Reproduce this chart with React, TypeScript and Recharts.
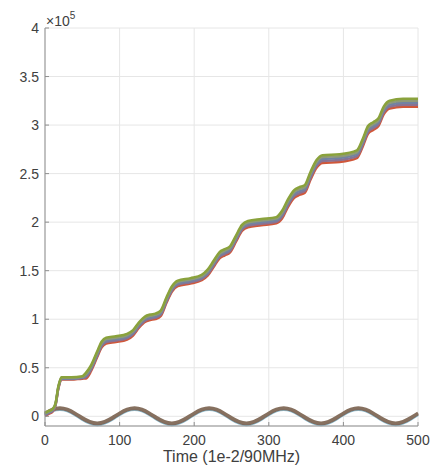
import React from "react";
import { LineChart, Line, XAxis, YAxis, CartesianGrid } from "recharts";

// Time samples (1e-2/90MHz) for the accumulated-phase traces
const stairTime = [0, 5, 10, 14, 18, 22, 35, 50, 55, 62, 70, 76, 82, 95, 110, 118, 126, 134, 141, 148, 155, 163, 170, 178, 195, 210, 218, 226, 234, 241, 248, 256, 264, 272, 290, 310, 318, 326, 334, 341, 348, 356, 364, 372, 395, 418, 426, 433, 440, 447, 454, 462, 480, 500];

// Accumulated traces, in units of 1e5
const stairA = [0.035, 0.055, 0.075, 0.132, 0.312, 0.402, 0.402, 0.412, 0.45, 0.53, 0.67, 0.77, 0.81, 0.825, 0.85, 0.888, 0.968, 1.028, 1.048, 1.058, 1.088, 1.228, 1.338, 1.398, 1.423, 1.458, 1.512, 1.602, 1.692, 1.722, 1.752, 1.862, 1.972, 2.012, 2.032, 2.052, 2.12, 2.24, 2.33, 2.36, 2.38, 2.52, 2.64, 2.69, 2.70, 2.74, 2.86, 2.99, 3.03, 3.07, 3.19, 3.25, 3.27, 3.27];
const stairB = [0.028, 0.048, 0.068, 0.126, 0.306, 0.396, 0.396, 0.406, 0.435, 0.515, 0.655, 0.755, 0.795, 0.81, 0.835, 0.874, 0.954, 1.014, 1.034, 1.044, 1.074, 1.214, 1.324, 1.384, 1.409, 1.444, 1.496, 1.586, 1.676, 1.706, 1.736, 1.846, 1.956, 1.996, 2.016, 2.036, 2.10, 2.22, 2.31, 2.34, 2.36, 2.50, 2.62, 2.67, 2.68, 2.72, 2.84, 2.97, 3.01, 3.05, 3.17, 3.23, 3.25, 3.25];
const stairC = [0.02, 0.04, 0.06, 0.12, 0.30, 0.39, 0.39, 0.40, 0.42, 0.50, 0.64, 0.74, 0.78, 0.795, 0.82, 0.86, 0.94, 1.00, 1.02, 1.03, 1.06, 1.20, 1.31, 1.37, 1.395, 1.43, 1.48, 1.57, 1.66, 1.69, 1.72, 1.83, 1.94, 1.98, 2.00, 2.02, 2.08, 2.20, 2.29, 2.32, 2.34, 2.48, 2.60, 2.65, 2.66, 2.70, 2.82, 2.95, 2.99, 3.03, 3.15, 3.21, 3.23, 3.23];
const stairD = [0.012, 0.032, 0.052, 0.114, 0.294, 0.384, 0.384, 0.394, 0.405, 0.485, 0.625, 0.725, 0.765, 0.78, 0.805, 0.846, 0.926, 0.986, 1.006, 1.016, 1.046, 1.186, 1.296, 1.356, 1.381, 1.416, 1.464, 1.554, 1.644, 1.674, 1.704, 1.814, 1.924, 1.964, 1.984, 2.004, 2.06, 2.18, 2.27, 2.30, 2.32, 2.46, 2.58, 2.63, 2.64, 2.68, 2.80, 2.93, 2.97, 3.01, 3.13, 3.19, 3.21, 3.21];
const stairE = [0.005, 0.025, 0.045, 0.108, 0.288, 0.378, 0.378, 0.388, 0.39, 0.47, 0.61, 0.71, 0.75, 0.765, 0.79, 0.832, 0.912, 0.972, 0.992, 1.002, 1.032, 1.172, 1.282, 1.342, 1.367, 1.402, 1.448, 1.538, 1.628, 1.658, 1.688, 1.798, 1.908, 1.948, 1.968, 1.988, 2.04, 2.16, 2.25, 2.28, 2.30, 2.44, 2.56, 2.61, 2.62, 2.66, 2.78, 2.91, 2.95, 2.99, 3.11, 3.17, 3.19, 3.19];

// Oscillating residual traces
const waveTime = [0, 10, 20, 30, 40, 50, 60, 70, 80, 90, 100, 110, 120, 130, 140, 150, 160, 170, 180, 190, 200, 210, 220, 230, 240, 250, 260, 270, 280, 290, 300, 310, 320, 330, 340, 350, 360, 370, 380, 390, 400, 410, 420, 430, 440, 450, 460, 470, 480, 490, 500];
const waveUpper = [0.034, 0.073, 0.088, 0.073, 0.034, -0.014, -0.053, -0.068, -0.053, -0.014, 0.034, 0.073, 0.088, 0.073, 0.034, -0.014, -0.053, -0.068, -0.053, -0.014, 0.034, 0.073, 0.088, 0.073, 0.034, -0.014, -0.053, -0.068, -0.053, -0.014, 0.034, 0.073, 0.088, 0.073, 0.034, -0.014, -0.053, -0.068, -0.053, -0.014, 0.034, 0.073, 0.088, 0.073, 0.034, -0.014, -0.053, -0.068, -0.053, -0.014, 0.034];
const waveMid = [0.024, 0.063, 0.078, 0.063, 0.024, -0.024, -0.063, -0.078, -0.063, -0.024, 0.024, 0.063, 0.078, 0.063, 0.024, -0.024, -0.063, -0.078, -0.063, -0.024, 0.024, 0.063, 0.078, 0.063, 0.024, -0.024, -0.063, -0.078, -0.063, -0.024, 0.024, 0.063, 0.078, 0.063, 0.024, -0.024, -0.063, -0.078, -0.063, -0.024, 0.024, 0.063, 0.078, 0.063, 0.024, -0.024, -0.063, -0.078, -0.063, -0.024, 0.024];
const waveLower = [0.014, 0.053, 0.068, 0.053, 0.014, -0.034, -0.073, -0.088, -0.073, -0.034, 0.014, 0.053, 0.068, 0.053, 0.014, -0.034, -0.073, -0.088, -0.073, -0.034, 0.014, 0.053, 0.068, 0.053, 0.014, -0.034, -0.073, -0.088, -0.073, -0.034, 0.014, 0.053, 0.068, 0.053, 0.014, -0.034, -0.073, -0.088, -0.073, -0.034, 0.014, 0.053, 0.068, 0.053, 0.014, -0.034, -0.073, -0.088, -0.073, -0.034, 0.014];

const xTicks = [0, 100, 200, 300, 400, 500];
const yTicks = [0, 0.5, 1, 1.5, 2, 2.5, 3, 3.5, 4];

const FONT = '"Liberation Sans", Arial, Helvetica, sans-serif';
const AXIS = "#8f8f8f";
const TEXT = "#404040";

const toRows = (time: number[], values: number[]) =>
  time.map((t, i) => ({ t, v: values[i] }));

const stairSeries = [
  { name: "trace 5", values: stairE, color: "#d0573a" },
  { name: "trace 4", values: stairD, color: "#8a7292" },
  { name: "trace 3", values: stairC, color: "#7282a2" },
  { name: "trace 2", values: stairB, color: "#8f9a78" },
  { name: "trace 1", values: stairA, color: "#8aa23c" },
];

const waveSeries = [
  { name: "residual 3", values: waveLower, color: "#8fbfd2", width: 2.6 },
  { name: "residual 2", values: waveMid, color: "#7d6a5f", width: 3 },
  { name: "residual 1", values: waveUpper, color: "#86705f", width: 3 },
];

const ExponentLabel = (props: any) => {
  const vb = props.viewBox || {};
  const x = (vb.x ?? 0) + (vb.width ?? 0) + 1;
  const y = (vb.y ?? 0) - 2;
  return (
    <text x={x} y={y} fill={TEXT} fontSize={14} fontFamily={FONT}>
      ×10
      <tspan dy={-7} fontSize={10}>
        5
      </tspan>
    </text>
  );
};

export default function App() {
  return (
    <div style={{ position: "absolute", left: 0, top: 0, background: "#fff" }}>
      <LineChart
        width={433}
        height={467}
        margin={{ top: 28, right: 15, bottom: 0, left: 0 }}
      >
        <CartesianGrid stroke="#e6e6e6" strokeWidth={1} />
        <XAxis
          type="number"
          dataKey="t"
          domain={[0, 500]}
          ticks={xTicks}
          height={41}
          stroke={AXIS}
          tickSize={-4}
          tickMargin={13}
          tick={{ fill: TEXT, fontSize: 14, fontFamily: FONT }}
          label={{
            value: "Time (1e-2/90MHz)",
            position: "insideBottom",
            offset: 5,
            fill: TEXT,
            fontSize: 16,
            fontFamily: FONT,
          }}
        />
        <XAxis
          xAxisId="top"
          orientation="top"
          type="number"
          dataKey="t"
          domain={[0, 500]}
          ticks={xTicks}
          height={0}
          stroke={AXIS}
          tickSize={-4}
          tickFormatter={() => ""}
        />
        <YAxis
          type="number"
          domain={[-0.1, 4]}
          ticks={yTicks}
          width={45}
          stroke={AXIS}
          tickSize={-4}
          tickMargin={10}
          tick={{ fill: TEXT, fontSize: 14, fontFamily: FONT }}
          label={{ content: (p: any) => <ExponentLabel {...p} /> }}
        />
        <YAxis
          yAxisId="right"
          orientation="right"
          type="number"
          domain={[-0.1, 4]}
          ticks={yTicks}
          width={0}
          stroke={AXIS}
          tickSize={-4}
          tickFormatter={() => ""}
        />
        {waveSeries.map((s) => (
          <Line
            key={s.name}
            name={s.name}
            data={toRows(waveTime, s.values)}
            dataKey="v"
            type="natural"
            stroke={s.color}
            strokeWidth={s.width}
            dot={false}
            isAnimationActive={false}
          />
        ))}
        {stairSeries.map((s) => (
          <Line
            key={s.name}
            name={s.name}
            data={toRows(stairTime, s.values)}
            dataKey="v"
            type="monotone"
            stroke={s.color}
            strokeWidth={2.5}
            dot={false}
            isAnimationActive={false}
          />
        ))}
      </LineChart>
    </div>
  );
}
